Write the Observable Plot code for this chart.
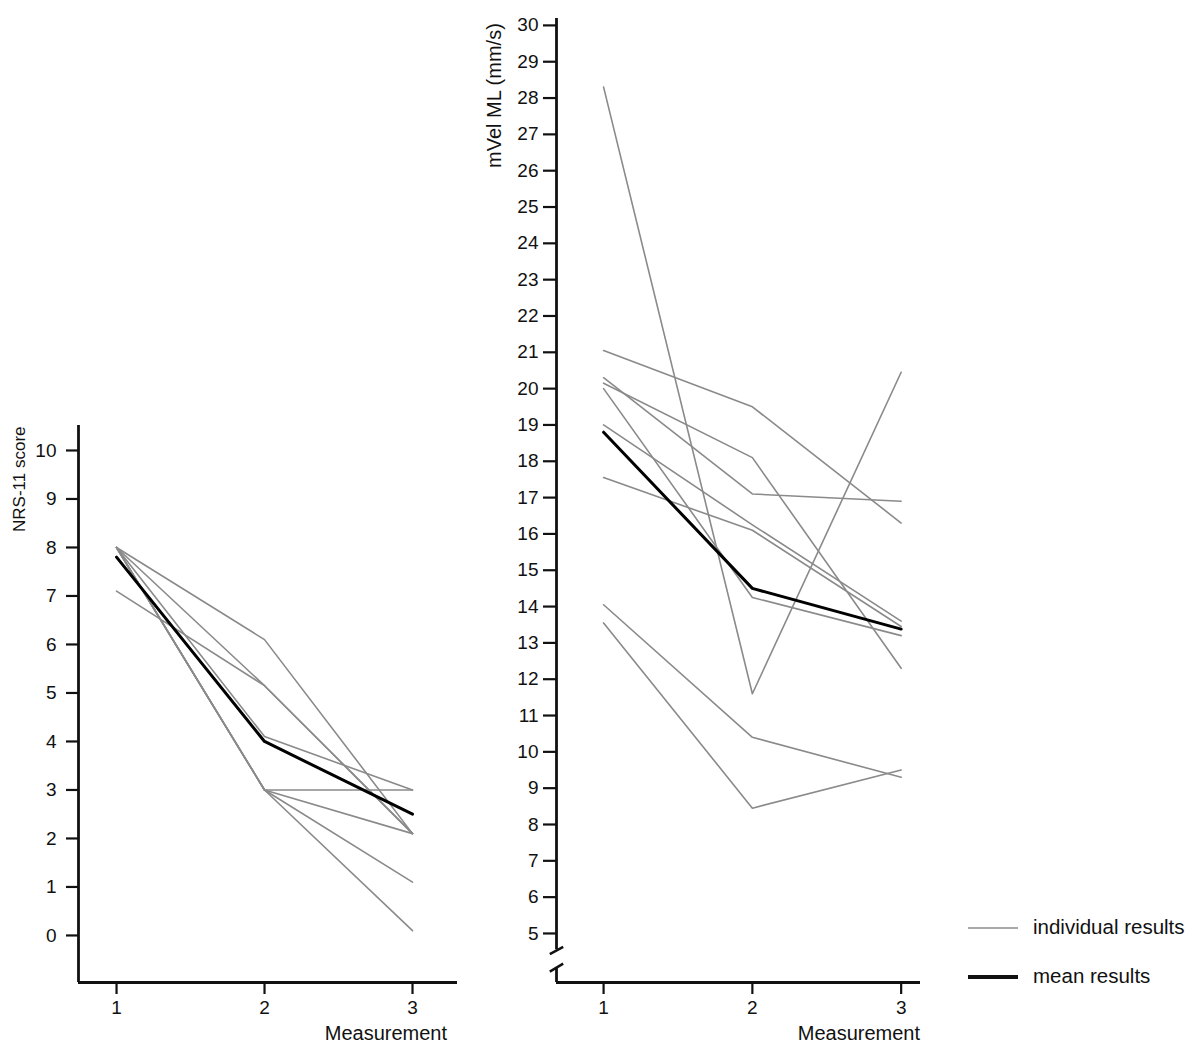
<!DOCTYPE html>
<html>
<head>
<meta charset="utf-8">
<script src="https://cdn.jsdelivr.net/npm/d3@7"></script>
<script src="https://cdn.jsdelivr.net/npm/@observablehq/plot@0.6"></script>
<style>
  body { margin: 0; background: #fff; }
  #page { position: relative; width: 1200px; height: 1045px; font-family: "Liberation Sans", Arial, sans-serif; color: #111; }
  .abs { position: absolute; }
  .ylab { position: absolute; white-space: nowrap; transform-origin: 0 0; transform: rotate(-90deg); }
  .xlab { position: absolute; white-space: nowrap; font-size: 20px; line-height: 20px; text-align: right; }
  .leg { position: absolute; font-size: 20.5px; line-height: 20px; white-space: nowrap; }
</style>
</head>
<body>
<div id="page">
  <div id="left" class="abs" style="left:0;top:400px"></div>
  <div id="right" class="abs" style="left:480px;top:0"></div>
  <div class="ylab" style="left:11px;top:532px;font-size:17px;line-height:18px">NRS-11 score</div>
  <div class="ylab" style="left:484px;top:168px;font-size:20px;line-height:20px">mVel ML (mm/s)</div>
  <div class="xlab" style="left:247px;width:200px;top:1023px">Measurement</div>
  <div class="xlab" style="left:720px;width:200px;top:1023px">Measurement</div>
  <div class="abs" style="left:968px;top:927px;width:50px;height:2px;background:#a8a8a8"></div>
  <div class="leg" style="left:1033px;top:917px">individual results</div>
  <div class="abs" style="left:968px;top:975px;width:50px;height:3.5px;background:#111"></div>
  <div class="leg" style="left:1033px;top:966px">mean results</div>
</div>
<script>
// ---------- data ----------
const measurements = [1, 2, 3];

// NRS-11 score, individual subjects (value at measurement 1, 2, 3)
const nrsSubjects = ["A", "B", "C", "D", "E", "F", "G", "H"];
const nrsM1 = [8.0, 8.0, 7.1, 8.0, 8.0, 8.0, 8.0, 8.0];
const nrsM2 = [6.1, 5.15, 5.15, 4.1, 3.0, 3.0, 3.0, 3.0];
const nrsM3 = [2.1, 2.1, 2.1, 3.0, 3.0, 2.1, 1.1, 0.1];
const nrsMean = [7.8, 4.0, 2.5];
const nrsTicks = [0, 1, 2, 3, 4, 5, 6, 7, 8, 9, 10];
const nrsYDomain = [-0.97, 10.515];
const nrsXDomain = [0.743, 3.304];

// mVel ML (mm/s), individual subjects
const velSubjects = ["a", "b", "c", "d", "e", "f", "g", "h", "i"];
const velM1 = [28.3, 21.05, 20.3, 20.15, 20.0, 19.0, 17.55, 14.05, 13.55];
const velM2 = [11.6, 19.5, 17.1, 18.1, 14.25, 16.25, 16.1, 10.4, 8.45];
const velM3 = [20.45, 16.3, 16.9, 12.3, 13.2, 13.6, 13.45, 9.3, 9.5];
const velMean = [18.8, 14.5, 13.38];
const velTicks = d3.range(5, 31);
const velYDomain = [3.65, 30.19];
const velXDomain = [0.6835, 3.13];
const velBreak = [4.05, 4.55];

const measureTicks = [1, 2, 3];

// ---------- helpers ----------
function longForm(ids, m1, m2, m3) {
  const cols = [m1, m2, m3];
  const out = [];
  ids.forEach((id, i) => measurements.forEach((m, j) => out.push({id, m, v: cols[j][i]})));
  return out;
}
const meanForm = (vals) => measurements.map((m, j) => ({m, v: vals[j]}));

const INDIV = "#8a8a8a";
const AXIS = "#111";
const baseStyle = {fontSize: "19px", fontFamily: "Liberation Sans, Arial, sans-serif", color: "#111", background: "transparent", overflow: "visible"};

// ---------- left: NRS-11 ----------
const nrsData = longForm(nrsSubjects, nrsM1, nrsM2, nrsM3);
const left = Plot.plot({
  width: 480, height: 645,
  marginLeft: 78, marginRight: 23, marginTop: 25, marginBottom: 63,
  style: baseStyle,
  x: {domain: nrsXDomain},
  y: {domain: nrsYDomain},
  marks: [
    Plot.axisY({ticks: nrsTicks, tickSize: 12, tickPadding: 10, strokeWidth: 2.2, stroke: AXIS, label: null, tickFormat: d => d, fontSize: 19}),
    Plot.axisX({ticks: measureTicks, tickSize: 12, tickPadding: 6, strokeWidth: 2.2, stroke: AXIS, label: null, tickFormat: d => d, fontSize: 19}),
    Plot.ruleX([nrsXDomain[0]], {y1: nrsYDomain[0], y2: nrsYDomain[1], stroke: AXIS, strokeWidth: 2.8}),
    Plot.ruleY([nrsYDomain[0]], {x1: nrsXDomain[0], x2: nrsXDomain[1], stroke: AXIS, strokeWidth: 2.8}),
    Plot.lineY(nrsData, {x: "m", y: "v", z: "id", stroke: INDIV, strokeWidth: 1.6}),
    Plot.lineY(meanForm(nrsMean), {x: "m", y: "v", stroke: "#000", strokeWidth: 3})
  ]
});
document.getElementById("left").appendChild(left);

// ---------- right: mVel ML ----------
const velData = longForm(velSubjects, velM1, velM2, velM3);
const brkDx = 0.045;
const right = Plot.plot({
  width: 460, height: 1045,
  marginLeft: 76, marginRight: 20, marginTop: 18, marginBottom: 63,
  style: baseStyle,
  x: {domain: velXDomain},
  y: {domain: velYDomain},
  marks: [
    Plot.axisY({ticks: velTicks, tickSize: 13, tickPadding: 5, strokeWidth: 2.2, stroke: AXIS, label: null, tickFormat: d => d, fontSize: 19}),
    Plot.axisX({ticks: measureTicks, tickSize: 12, tickPadding: 6, strokeWidth: 2.2, stroke: AXIS, label: null, tickFormat: d => d, fontSize: 19}),
    Plot.ruleX([velXDomain[0]], {y1: velBreak[1], y2: velYDomain[1], stroke: AXIS, strokeWidth: 2.8}),
    Plot.ruleX([velXDomain[0]], {y1: velYDomain[0], y2: velBreak[0], stroke: AXIS, strokeWidth: 2.8}),
    Plot.link([velBreak[1]], {x1: velXDomain[0] - brkDx, y1: d => d - 0.12, x2: velXDomain[0] + brkDx, y2: d => d + 0.08, stroke: AXIS, strokeWidth: 2.5}),
    Plot.link([velBreak[0]], {x1: velXDomain[0] - brkDx, y1: d => d - 0.1, x2: velXDomain[0] + brkDx, y2: d => d + 0.12, stroke: AXIS, strokeWidth: 2.5}),
    Plot.ruleY([velYDomain[0]], {x1: velXDomain[0], x2: velXDomain[1], stroke: AXIS, strokeWidth: 2.8}),
    Plot.lineY(velData, {x: "m", y: "v", z: "id", stroke: INDIV, strokeWidth: 1.6}),
    Plot.lineY(meanForm(velMean), {x: "m", y: "v", stroke: "#000", strokeWidth: 3})
  ]
});
document.getElementById("right").appendChild(right);
</script>
</body>
</html>
